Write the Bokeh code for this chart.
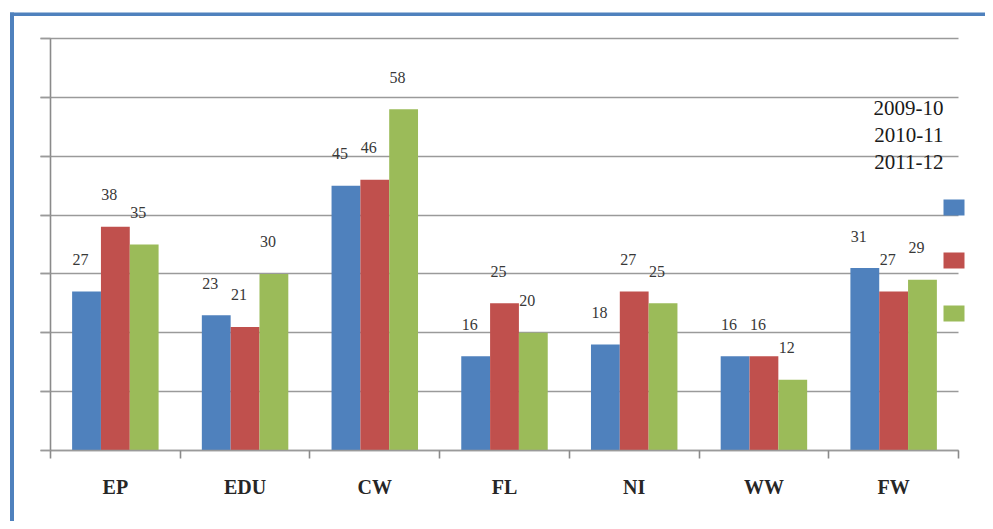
import numpy as np
from bokeh.plotting import figure
from bokeh.models import (Range1d, FixedTicker, LabelSet, ColumnDataSource,
                          BoxAnnotation, Label)
from bokeh.embed import file_html
from bokeh.resources import INLINE

# ---- data ----
categories = ["EP", "EDU", "CW", "FL", "NI", "WW", "FW"]
series_names = ["2009-10", "2010-11", "2011-12"]
v2009_10 = [27, 23, 45, 16, 18, 16, 31]
v2010_11 = [38, 21, 46, 25, 27, 16, 27]
v2011_12 = [35, 30, 58, 20, 25, 12, 29]
y_ticks = [0, 10, 20, 30, 40, 50, 60, 70]

series = [v2009_10, v2010_11, v2011_12]
colors = ["#4F81BD", "#C0504D", "#9BBB59"]

# ---- layout (canvas px) ----
W, H = 985, 521
PX0, PXN = 50, 958      # x pixel of first / last category boundary
PY0, PYT = 450, 38      # y pixel of value 0 / value 70
ncat = len(categories)
xpx = (PXN - PX0) / ncat
ypx = (PY0 - PYT) / y_ticks[-1]


def dx(px):
    return (px - PX0) / xpx


def dy(py):
    return (PY0 - py) / ypx


x_start, x_end = dx(0), dx(W)
y_start, y_end = dy(H), dy(0)

p = figure(width=W, height=H, x_range=Range1d(x_start, x_end), y_range=Range1d(y_start, y_end),
           output_backend="svg", toolbar_location=None,
           min_border_left=0, min_border_right=0, min_border_top=0, min_border_bottom=0)
p.outline_line_color = None
p.background_fill_color = "white"
p.border_fill_color = "white"

# grid
p.xgrid.visible = False
p.ygrid.ticker = FixedTicker(ticks=y_ticks)
p.ygrid.grid_line_color = "#9a9a9a"
p.ygrid.grid_line_width = 1.6
p.ygrid.bounds = (0, y_ticks[-1])
p.ygrid.cross_bounds = (dx(40), ncat)

# y axis
p.yaxis.fixed_location = 0
p.yaxis.bounds = (0, y_ticks[-1])
p.yaxis.ticker = FixedTicker(ticks=y_ticks)
p.yaxis.major_label_text_color = None
p.yaxis.major_tick_out = 10
p.yaxis.major_tick_in = 0
p.yaxis.minor_tick_line_color = None
p.yaxis.axis_line_color = "#8a8a8a"
p.yaxis.axis_line_width = 1.6
p.yaxis.major_tick_line_color = "#9a9a9a"
p.yaxis.major_tick_line_width = 1.6

# x axis: labels at category centres, ticks at boundaries
centers = [i + 0.5 for i in range(ncat)]
p.xaxis.fixed_location = 0
p.xaxis.bounds = (0, ncat)
p.xaxis.ticker = FixedTicker(ticks=centers, minor_ticks=list(range(ncat + 1)))
p.xaxis.major_label_overrides = {c: lab for c, lab in zip(centers, categories)}
p.xaxis.major_tick_out = 0
p.xaxis.major_tick_in = 0
p.xaxis.minor_tick_out = 8
p.xaxis.minor_tick_in = 0
p.xaxis.minor_tick_line_color = "#8a8a8a"
p.xaxis.minor_tick_line_width = 1.6
p.xaxis.axis_line_color = "#9a9a9a"
p.xaxis.axis_line_width = 1.6
p.xaxis.major_label_text_font = "Liberation Serif"
p.xaxis.major_label_text_font_style = "bold"
p.xaxis.major_label_text_font_size = "20px"
p.xaxis.major_label_text_color = "#262626"
p.xaxis.major_label_standoff = 17

# bars + value labels
bw = 2 / 9
offsets = [-bw, 0, bw]
for vals, col, off in zip(series, colors, offsets):
    xs = [c + off for c in centers]
    src = ColumnDataSource(dict(x=xs, top=vals, lab=[str(v) for v in vals]))
    p.vbar(x="x", top="top", width=bw, source=src, fill_color=col, line_color=None)
    p.add_layout(LabelSet(x="x", y="top", text="lab", source=src,
                          x_offset=-6, y_offset=32,
                          text_align="center", text_baseline="middle",
                          text_font="Open Sans", text_font_size="16px",
                          text_color="#383838"))

# legend text (detached from swatches, as in the reference)
for i, name in enumerate(series_names):
    p.add_layout(Label(x=dx(943), y=dy(107 + 27 * i), text=name,
                       text_align="right", text_baseline="middle",
                       text_font="Liberation Serif", text_font_size="21px",
                       text_color="#1a1a1a"))
# legend swatches
for i, col in enumerate(colors):
    top = 199 + 53 * i
    p.add_layout(BoxAnnotation(left=dx(943), right=dx(964), top=dy(top), bottom=dy(top + 16),
                               fill_color=col, fill_alpha=1, line_color=None))

# outer blue frame: left and top edges as filled strips
frame_blue = "#4F81BD"
p.add_layout(BoxAnnotation(left=dx(9.5), right=dx(13.5), top=dy(12), bottom=dy(H + 50),
                           fill_color=frame_blue, fill_alpha=1, line_color=None))
p.add_layout(BoxAnnotation(left=dx(9.5), right=dx(W + 50), top=dy(12), bottom=dy(15.5),
                           fill_color=frame_blue, fill_alpha=1, line_color=None))

open("out.html", "w").write(file_html(p, INLINE))
